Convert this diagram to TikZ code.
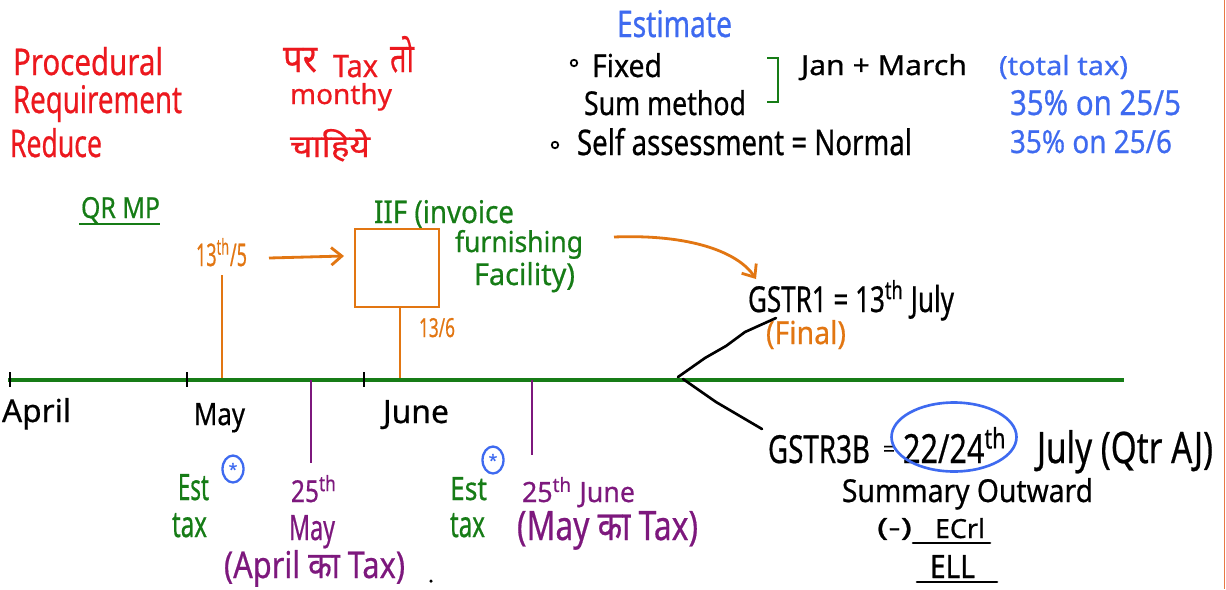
\documentclass[tikz,border=0pt]{standalone}
\usepackage{fontspec}
\setmainfont{Noto Sans}[FakeBold=0.6]
\newfontfamily\deva[Script=Devanagari,FakeBold=0.6]{Noto Sans}
\usepackage{graphicx}
\usetikzlibrary{arrows.meta,shapes.geometric}
\newdimen\px \px=0.02cm
\newcommand\hw[3]{\resizebox{#1\px}{#2\px}{#3}}
\definecolor{cred}{RGB}{236,24,30}
\definecolor{cblue}{RGB}{62,106,240}
\definecolor{cgreen}{RGB}{22,124,22}
\definecolor{corange}{RGB}{226,118,18}
\definecolor{cpurple}{RGB}{125,24,125}
\definecolor{cborder}{RGB}{232,120,70}
\begin{document}
\begin{tikzpicture}[x=0.02cm,y=-0.02cm,
  txt/.style={anchor=base west, inner sep=0pt, outer sep=0pt},
  gline/.style={draw=cgreen, line width=1.9pt},
  oline/.style={draw=corange, line width=1.6pt},
  oarrow/.style={draw=corange, line width=1.6pt, -{Straight Barb[length=6pt,width=10pt]}},
  pline/.style={draw=cpurple, line width=1.6pt},
  bline/.style={draw=black, line width=1.5pt, line cap=round},
  tick/.style={draw=black, line width=1.4pt},
  bullet/.style={draw=black, circle, line width=1pt, minimum size=0.13cm, inner sep=0pt},
  star/.style={draw=cblue, ellipse, line width=1.3pt, minimum width=0.42cm, minimum height=0.54cm, inner sep=0pt, text=cblue, font=\bfseries\small}
]
\useasboundingbox (0,0) rectangle (1226,589);
\fill[white] (0,0) rectangle (1226,589);
\draw[cborder, line width=0.8pt] (1224.5,0) -- (1224.5,589);

% ---- red block
\node[txt, text=cred] (proc) at (13,75) {\hw{150}{28}{Procedural}};
\node[txt, text=cred] (requ) at (13,113) {\hw{169}{28}{Requirement}};
\node[txt, text=cred] (redu) at (10,157) {\hw{92}{29}{Reduce}};
\node[txt, text=cred] (par) at (283,72) {\hw{34}{24}{\deva पर}};
\node[txt, text=cred] (taxr) at (333,77) {\hw{45}{22}{Tax}};
\node[txt, text=cred] (to) at (390,72) {\hw{24}{36}{\deva तो}};
\node[txt, text=cred] (mon) at (290,104) {\hw{102}{21}{monthy}};
\node[txt, text=cred] (chah) at (290,157) {\hw{80}{28}{\deva चाहिये}};

% ---- estimate block
\node[txt, text=cblue] (est) at (617,37) {\hw{115}{27}{Estimate}};
\node[bullet] (b1) at (574,63) {};
\node[txt] (fixed) at (592,77) {\hw{70}{24}{Fixed}};
\node[txt] (summ) at (584,115) {\hw{162}{25}{Sum method}};
\node[bullet] (b2) at (555,145) {};
\node[txt] (self) at (577,155) {\hw{335}{27}{Self assessment = Normal}};
\draw[gline, line width=1.5pt] (767,58) -- (778,58) -- (778,102) -- (767,102);
\node[txt] (jan) at (801,75) {\hw{166}{21}{Jan + March}};
\node[txt, text=cblue] (ttax) at (999,75) {\hw{129}{20}{(total tax)}};
\node[txt, text=cblue] (pc1) at (1010,115) {\hw{171}{25}{35\% on 25/5}};
\node[txt, text=cblue] (pc2) at (1010,153) {\hw{162}{23}{35\% on 25/6}};

% ---- QR MP and IIF
\node[txt, text=cgreen] (qrmp) at (81,218) {\hw{79}{21}{QR MP}};
\coordinate (qrA) at (79,224); \coordinate (qrB) at (160,224);
\draw[gline, line width=1.5pt] (qrA) -- (qrB);
\node[txt, text=cgreen] (iif) at (374,223) {\hw{140}{23}{IIF (invoice}};
\node[txt, text=cgreen] (furn) at (455,252) {\hw{128}{22}{furnishing}};
\node[txt, text=cgreen] (fac) at (474,285) {\hw{101}{23}{Facility)}};

\node[draw=corange, line width=1.6pt, minimum width=1.68cm, minimum height=1.56cm, inner sep=0pt] (iifbox) at (397,268) {};
\node[txt, text=corange] (d1) at (196,266) {\hw{51}{28}{13\textsuperscript{th}/5}};
\node[txt, text=corange] (d2) at (419,337) {\hw{36}{19}{13/6}};
\coordinate (arS) at (269,258); \coordinate (arE) at (344,256);
\draw[oarrow] (arS) -- (arE);
\coordinate (d1top) at (222,275); \coordinate (d1bot) at (222,380);
\draw[oline] (d1top) -- (d1bot);
\coordinate (bxl) at (400,380);
\draw[oline] (bxl |- iifbox.south) -- (bxl);

% ---- timeline
\coordinate (tlA) at (8,380); \coordinate (tlB) at (1124,380);
\draw[gline] (tlA) -- (tlB);
\foreach \x/\n in {10/ta,187/tb,364/tc}{
  \coordinate (\n1) at (\x,372); \coordinate (\n2) at (\x,387);
  \draw[tick] (\n1) -- (\n2);
}
\node[txt] (april) at (2,422) {\hw{69}{24}{April}};
\node[txt] (may) at (194,425) {\hw{51}{22}{May}};
\node[txt] (june) at (383,423) {\hw{66}{23}{June}};

% ---- purple deadlines
\coordinate (pa1) at (311,380); \coordinate (pa2) at (311,463);
\coordinate (pb1) at (532,380); \coordinate (pb2) at (532,455);
\draw[pline] (pa1) -- (pa2);
\draw[pline] (pb1) -- (pb2);
\node[txt, text=cpurple] (p25a) at (291,502) {\hw{46}{27}{25\textsuperscript{th}}};
\node[txt, text=cpurple] (maya) at (289,540) {\hw{46}{25}{May}};
\node[txt, text=cpurple] (aprtax) at (224,578) {\hw{181}{28}{(April {\deva का} Tax)}};
\node[txt, text=cpurple] (p25b) at (522,502) {\hw{113}{25}{25\textsuperscript{th} June}};
\node[txt, text=cpurple] (maytax) at (517,540) {\hw{181}{29}{(May {\deva का} Tax)}};

% ---- est tax
\node[txt, text=cgreen] (est1) at (178,500) {\hw{31}{26}{Est}};
\node[txt, text=cgreen] (tax1) at (172,537) {\hw{35}{24}{tax}};
\node[txt, text=cgreen] (est2) at (450,500) {\hw{37}{23}{Est}};
\node[txt, text=cgreen] (tax2) at (450,537) {\hw{35}{24}{tax}};
\node[star] (s1) at (233,469) {*};
\node[star] (s2) at (493,460) {*};
\fill (431,581) circle [radius=0.035cm];

% ---- GSTR1 / GSTR3B
\coordinate (cS) at (614,237); \coordinate (cE) at (756,279);
\draw[oarrow] (cS) .. controls (690,234) and (738,252) .. (cE);
\node[txt] (gstr1) at (748,312) {\hw{206}{32}{GSTR1 = 13\textsuperscript{th} July}};
\node[txt, text=corange] (final) at (766,344) {\hw{80}{24}{(Final)}};
\coordinate (fork) at (678,377); \coordinate (fkU) at (776,318);
\coordinate (fork2) at (683,379); \coordinate (fkL) at (762,429);
\draw[bline] (fork) -- (705,358) -- (726,346) -- (745,332) -- (fkU);
\draw[bline] (fork2) -- (716,402) -- (fkL);

\node[txt] (g3b) at (768,463) {\hw{102}{28}{GSTR3B}};
\node[inner sep=0pt, font=\fontsize{12}{12}\selectfont] (eq) at (889,451) {=};
\node[txt] (num) at (903,463) {\hw{104}{36}{22/24\textsuperscript{th}}};
\node[draw=cblue, line width=1.5pt, ellipse, minimum width=2.5cm, minimum height=1.38cm, inner sep=0pt] (oval) at (954,437) {};
\node[txt] (july) at (1037,463) {\hw{176}{33}{July (Qtr AJ)}};
\node[txt] (summo) at (842,502) {\hw{251}{24}{Summary Outward}};
\node[txt] (minus) at (877,536) {\hw{35}{18}{(-)}};
\node[txt] (ecrl) at (935,538) {\hw{50}{20}{ECrl}};
\node[txt] (ell) at (930,578) {\hw{45}{23}{ELL}};
\coordinate (u1A) at (913,543); \coordinate (u1B) at (990,543);
\coordinate (u2A) at (917,582); \coordinate (u2B) at (997,582);
\draw[bline] (u1A) -- (u1B);
\draw[bline] (u2A) -- (u2B);
\end{tikzpicture}
\end{document}
